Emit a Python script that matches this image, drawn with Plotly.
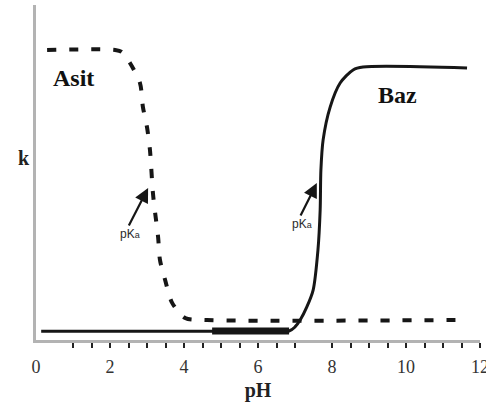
import plotly.graph_objects as go

# Asit (acid) curve, dashed
ph_acid = [0.30, 2.14, 2.32, 2.54, 2.81, 2.89, 3.00, 3.08, 3.16, 3.22, 3.30, 3.35, 3.49, 3.68, 4.03, 4.62, 11.68]
k_acid = [1.0, 1.0, 0.993, 0.955, 0.886, 0.803, 0.734, 0.655, 0.507, 0.438, 0.355, 0.276, 0.207, 0.128, 0.076, 0.069, 0.069]

# Baz (base) curve, solid
ph_base = [0.14, 4.76, 6.84, 7.00, 7.14, 7.32, 7.49, 7.62, 7.68, 7.70, 7.76, 7.95, 8.22, 8.57, 8.84, 11.65]
k_base = [0.030, 0.030, 0.031, 0.045, 0.069, 0.114, 0.172, 0.31, 0.448, 0.586, 0.69, 0.803, 0.886, 0.931, 0.941, 0.938]

# thick part of the base line
ph_base_thick = [4.76, 6.84]
k_base_thick = [0.031, 0.031]

# pKa arrows (tip positions)
pka_acid = (3.03, 0.524)
pka_base = (7.59, 0.541)

x_tick_vals = [0, 2, 4, 6, 8, 10, 12]
x_tick_text = ["0", "2", "4", "6", "8", "10", "12"]
minor_tick_vals = [1, 1.5, 2, 2.5, 3, 3.5, 4, 4.5, 5, 5.5, 6, 6.5, 7,
                   8, 8.5, 9, 9.5, 10, 10.5, 11, 11.5, 12]

serif = "Liberation Serif, Times New Roman, serif"
ink = "#161616"

fig = go.Figure()
fig.add_trace(go.Scatter(x=ph_acid, y=k_acid, mode="lines",
                         line=dict(color=ink, width=4, dash="9px,13px", shape="spline", smoothing=0.8),
                         hoverinfo="skip", showlegend=False))
fig.add_trace(go.Scatter(x=ph_base, y=k_base, mode="lines",
                         line=dict(color=ink, width=3, shape="spline", smoothing=0.8),
                         hoverinfo="skip", showlegend=False))
fig.add_trace(go.Scatter(x=ph_base_thick, y=k_base_thick, mode="lines",
                         line=dict(color=ink, width=7),
                         hoverinfo="skip", showlegend=False))

for (tx, ty), (ax, ay) in [(pka_acid, (-20, 39)), (pka_base, (-17, 34))]:
    fig.add_annotation(x=tx, y=ty, xref="x", yref="y", text="", showarrow=True,
                       ax=ax, ay=ay, arrowhead=2, arrowsize=1.3, arrowwidth=2.2,
                       arrowcolor=ink)
    fig.add_annotation(x=tx, y=ty, xref="x", yref="y",
                       text="pK<span style='font-size:9px'>a</span>",
                       showarrow=False, xshift=ax + 2, yshift=-ay - 7,
                       font=dict(family="Liberation Sans Narrow, Liberation Sans, sans-serif",
                                 size=12, color="#2a2a2a"))

fig.add_annotation(x=1.0, y=0.903, xref="x", yref="y", text="<b>Asit</b>", showarrow=False,
                   font=dict(family=serif, size=24, color="#111"))
fig.add_annotation(x=9.76, y=0.845, xref="x", yref="y", text="<b>Baz</b>", showarrow=False,
                   font=dict(family=serif, size=24, color="#111"))
fig.add_annotation(x=-0.045, y=(340 - 158) / 335, xref="paper", yref="paper", text="<b>k</b>",
                   showarrow=False, font=dict(family=serif, size=20, color="#222"))

fig.update_layout(
    width=486, height=412,
    margin=dict(l=36, r=6, t=5, b=72, autoexpand=False),
    paper_bgcolor="white", plot_bgcolor="white",
    xaxis=dict(range=[0, 12], tickvals=x_tick_vals, ticktext=x_tick_text, automargin=False,
               showgrid=False, zeroline=False, showline=True, linecolor="#b3b3b3", linewidth=3,
               ticks="", ticklabelstandoff=8, ticklabeloverflow="allow",
               tickfont=dict(family=serif, size=18, color="#333"),
               minor=dict(tickmode="array", tickvals=minor_tick_vals, ticks="outside",
                          ticklen=5, tickwidth=2, tickcolor="#222", showgrid=False),
               title=dict(text="<b>pH</b>", font=dict(family=serif, size=20, color="#222"), standoff=8)),
    yaxis=dict(range=[0, 1.155], showticklabels=False, ticks="", showgrid=False, zeroline=False,
               automargin=False, showline=True, linecolor="#b3b3b3", linewidth=3),
)

fig.write_html("out.html")
